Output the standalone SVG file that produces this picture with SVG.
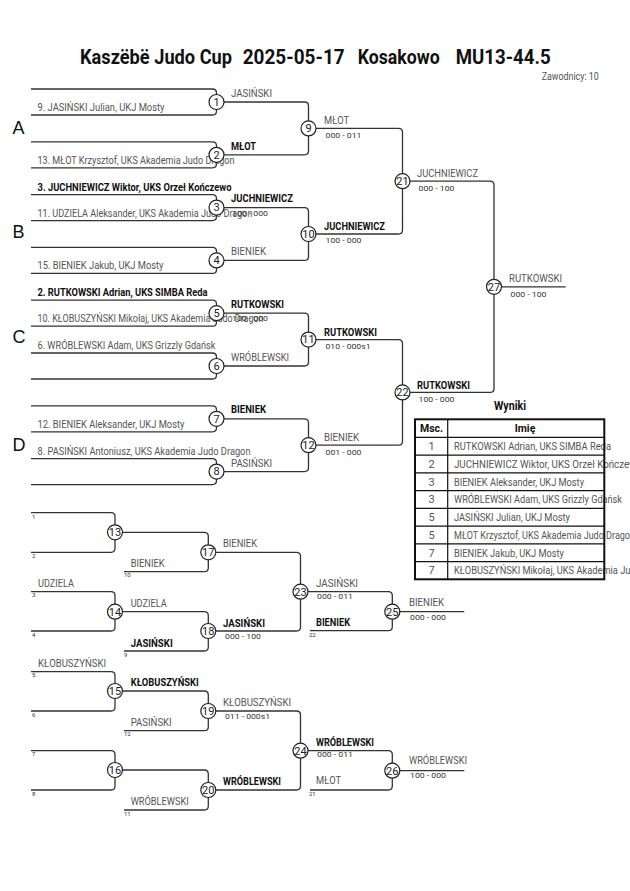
<svg xmlns="http://www.w3.org/2000/svg" width="630" height="891" viewBox="0 0 630 891">
<style>
text{font-family:Roboto,"Liberation Sans",sans-serif}
.ttl{font-size:19.5px;font-weight:bold;fill:#111}
.zw{font-size:10px;fill:#555}
.pool{font-family:"Liberation Sans",Arial,sans-serif;font-size:18px;fill:#111}
.nm{font-size:10.8px;fill:#555}
.nb{font-size:10.8px;font-weight:bold;fill:#111}
.sc{font-size:8px;fill:#333}
.tn{font-size:6px;fill:#333}
.cn{font-size:11px;fill:#222;text-anchor:middle}
.ln{fill:none;stroke:#333;stroke-width:1.3}
.c{fill:#fff;stroke:#222;stroke-width:1.2}
.tb{fill:none;stroke:#111;stroke-width:2}
.ti{fill:none;stroke:#111;stroke-width:1.2}
.th{font-size:10.5px;font-weight:bold;fill:#111;text-anchor:middle}
.tr{font-size:11px;fill:#555}
.tp{font-size:11px;fill:#555;text-anchor:middle}
</style>
<rect width="630" height="891" fill="#fff"/>
<g id="title">
<text class="ttl" x="80" y="64" textLength="152" lengthAdjust="spacingAndGlyphs">Kaszëbë Judo Cup</text>
<text class="ttl" x="242.7" y="64" textLength="102" lengthAdjust="spacingAndGlyphs">2025-05-17</text>
<text class="ttl" x="357.7" y="64" textLength="82" lengthAdjust="spacingAndGlyphs">Kosakowo</text>
<text class="ttl" x="455.7" y="64" textLength="95" lengthAdjust="spacingAndGlyphs">MU13-44.5</text>
<text class="zw" x="541.7" y="79.5" textLength="57" lengthAdjust="spacingAndGlyphs">Zawodnicy: 10</text>
</g>
<g id="pools">
<text class="pool" x="12.5" y="134.3">A</text>
<text class="pool" x="12.5" y="238.3">B</text>
<text class="pool" x="12.5" y="343.3">C</text>
<text class="pool" x="12.5" y="451">D</text>
</g>
<g id="connectors">
<path class="ln" d="M31,89 H212.5 Q216.5,89 216.5,93 V111 Q216.5,115 212.5,115 H31"/>
<path class="ln" d="M31,141.8 H212.5 Q216.5,141.8 216.5,145.8 V163.8 Q216.5,167.8 212.5,167.8 H31"/>
<path class="ln" d="M31,194.6 H212.5 Q216.5,194.6 216.5,198.6 V216.6 Q216.5,220.6 212.5,220.6 H31"/>
<path class="ln" d="M31,247.4 H212.5 Q216.5,247.4 216.5,251.4 V269.4 Q216.5,273.4 212.5,273.4 H31"/>
<path class="ln" d="M31,300.2 H212.5 Q216.5,300.2 216.5,304.2 V322.2 Q216.5,326.2 212.5,326.2 H31"/>
<path class="ln" d="M31,353 H212.5 Q216.5,353 216.5,357 V375 Q216.5,379 212.5,379 H31"/>
<path class="ln" d="M31,405.8 H212.5 Q216.5,405.8 216.5,409.8 V427.8 Q216.5,431.8 212.5,431.8 H31"/>
<path class="ln" d="M31,458.6 H212.5 Q216.5,458.6 216.5,462.6 V480.6 Q216.5,484.6 212.5,484.6 H31"/>
<path class="ln" d="M216.5,102 H304.5 Q308.5,102 308.5,106 V150.8 Q308.5,154.8 304.5,154.8 H216.5"/>
<path class="ln" d="M216.5,207.6 H304.5 Q308.5,207.6 308.5,211.6 V256.4 Q308.5,260.4 304.5,260.4 H216.5"/>
<path class="ln" d="M216.5,313.2 H304.5 Q308.5,313.2 308.5,317.2 V362 Q308.5,366 304.5,366 H216.5"/>
<path class="ln" d="M216.5,418.8 H304.5 Q308.5,418.8 308.5,422.8 V467.6 Q308.5,471.6 304.5,471.6 H216.5"/>
<path class="ln" d="M308.5,128.4 H398.5 Q402.5,128.4 402.5,132.4 V230 Q402.5,234 398.5,234 H308.5"/>
<path class="ln" d="M308.5,339.6 H398.5 Q402.5,339.6 402.5,343.6 V441.2 Q402.5,445.2 398.5,445.2 H308.5"/>
<path class="ln" d="M402.5,181.2 H490 Q494,181.2 494,185.2 V388.4 Q494,392.4 490,392.4 H402.5"/>
<path class="ln" d="M494,286.8 H565.7"/>
<path class="ln" d="M31,512.7 H111 Q115,512.7 115,516.7 V548.3 Q115,552.3 111,552.3 H31"/>
<path class="ln" d="M31,591.7 H111 Q115,591.7 115,595.7 V627 Q115,631 111,631 H31"/>
<path class="ln" d="M31,671.7 H111 Q115,671.7 115,675.7 V707 Q115,711 111,711 H31"/>
<path class="ln" d="M31,750.7 H111 Q115,750.7 115,754.7 V786 Q115,790 111,790 H31"/>
<path class="ln" d="M115,532.3 H204.3 Q208.3,532.3 208.3,536.3 V567.7 Q208.3,571.7 204.3,571.7 H124"/>
<path class="ln" d="M115,611.7 H204.3 Q208.3,611.7 208.3,615.7 V647 Q208.3,651 204.3,651 H124"/>
<path class="ln" d="M115,691 H204.3 Q208.3,691 208.3,695 V726.7 Q208.3,730.7 204.3,730.7 H124"/>
<path class="ln" d="M115,770 H204.3 Q208.3,770 208.3,774 V806 Q208.3,810 204.3,810 H124"/>
<path class="ln" d="M208.3,552.3 H296.5 Q300.5,552.3 300.5,556.3 V627 Q300.5,631 296.5,631 H208.3"/>
<path class="ln" d="M208.3,711 H296.5 Q300.5,711 300.5,715 V786 Q300.5,790 296.5,790 H208.3"/>
<path class="ln" d="M300.5,591.7 H388.3 Q392.3,591.7 392.3,595.7 V626.7 Q392.3,630.7 388.3,630.7 H310"/>
<path class="ln" d="M300.5,750.7 H388.3 Q392.3,750.7 392.3,754.7 V786 Q392.3,790 388.3,790 H310"/>
<path class="ln" d="M392.3,611.7 H464.3"/>
<path class="ln" d="M392.3,770.7 H464.3"/>
</g>
<g id="entries">
<text class="nm" x="37.5" y="111.3" textLength="127" lengthAdjust="spacingAndGlyphs">9. JASIŃSKI Julian, UKJ Mosty</text>
<text class="nm" x="37.5" y="164" textLength="197" lengthAdjust="spacingAndGlyphs">13. MŁOT Krzysztof, UKS Akademia Judo Dragon</text>
<text class="nb" x="37.5" y="190.6" textLength="194" lengthAdjust="spacingAndGlyphs">3. JUCHNIEWICZ Wiktor, UKS Orzeł Kończewo</text>
<text class="nm" x="37.5" y="216.6" textLength="215" lengthAdjust="spacingAndGlyphs">11. UDZIELA Aleksander, UKS Akademia Judo Dragon</text>
<text class="nm" x="37.5" y="269.4" textLength="126" lengthAdjust="spacingAndGlyphs">15. BIENIEK Jakub, UKJ Mosty</text>
<text class="nb" x="37.5" y="296.2" textLength="170" lengthAdjust="spacingAndGlyphs">2. RUTKOWSKI Adrian, UKS SIMBA Reda</text>
<text class="nm" x="37.5" y="322.2" textLength="226" lengthAdjust="spacingAndGlyphs">10. KŁOBUSZYŃSKI Mikołaj, UKS Akademia Judo Dragon</text>
<text class="nm" x="37.5" y="349" textLength="178" lengthAdjust="spacingAndGlyphs">6. WRÓBLEWSKI Adam, UKS Grizzly Gdańsk</text>
<text class="nm" x="37.5" y="427.8" textLength="147" lengthAdjust="spacingAndGlyphs">12. BIENIEK Aleksander, UKJ Mosty</text>
<text class="nm" x="37.5" y="454.6" textLength="213" lengthAdjust="spacingAndGlyphs">8. PASIŃSKI Antoniusz, UKS Akademia Judo Dragon</text>
<text class="nm" x="38" y="587.3" textLength="36" lengthAdjust="spacingAndGlyphs">UDZIELA</text>
<text class="nm" x="38" y="666.7" textLength="68" lengthAdjust="spacingAndGlyphs">KŁOBUSZYŃSKI</text>
<text class="tn" x="32" y="518.5">1</text>
<text class="tn" x="32" y="558">2</text>
<text class="tn" x="32" y="597.4">3</text>
<text class="tn" x="32" y="636.7">4</text>
<text class="tn" x="32" y="677.4">5</text>
<text class="tn" x="32" y="716.7">6</text>
<text class="tn" x="32" y="756.4">7</text>
<text class="tn" x="32" y="795.7">8</text>
<text class="tn" x="124" y="577.4">10</text>
<text class="tn" x="124" y="656.7">9</text>
<text class="tn" x="124" y="736.4">12</text>
<text class="tn" x="124" y="815.7">11</text>
<text class="tn" x="309" y="636.6">22</text>
<text class="tn" x="309" y="795.9">21</text>
</g>
<g id="m1"><text class="nm" x="231" y="96.7" textLength="41" lengthAdjust="spacingAndGlyphs">JASIŃSKI</text><circle class="c" cx="216.5" cy="102" r="7.5"/><text class="cn" x="216.5" y="105.8">1</text></g>
<g id="m2"><text class="nb" x="231" y="149.5" textLength="25" lengthAdjust="spacingAndGlyphs">MŁOT</text><circle class="c" cx="216.5" cy="154.8" r="7.5"/><text class="cn" x="216.5" y="158.6">2</text></g>
<g id="m3"><text class="nb" x="231" y="202" textLength="62" lengthAdjust="spacingAndGlyphs">JUCHNIEWICZ</text><text class="sc" x="232" y="215.5" textLength="36" lengthAdjust="spacingAndGlyphs">100 - 000</text><circle class="c" cx="216.5" cy="207.6" r="7.5"/><text class="cn" x="216.5" y="211.4">3</text></g>
<g id="m4"><text class="nm" x="231" y="255" textLength="35" lengthAdjust="spacingAndGlyphs">BIENIEK</text><circle class="c" cx="216.5" cy="260.4" r="7.5"/><text class="cn" x="216.5" y="264.2">4</text></g>
<g id="m5"><text class="nb" x="231" y="308" textLength="53" lengthAdjust="spacingAndGlyphs">RUTKOWSKI</text><text class="sc" x="232" y="321" textLength="36" lengthAdjust="spacingAndGlyphs">100 - 000</text><circle class="c" cx="216.5" cy="313.2" r="7.5"/><text class="cn" x="216.5" y="317">5</text></g>
<g id="m6"><text class="nm" x="231" y="361" textLength="58" lengthAdjust="spacingAndGlyphs">WRÓBLEWSKI</text><circle class="c" cx="216.5" cy="366" r="7.5"/><text class="cn" x="216.5" y="369.8">6</text></g>
<g id="m7"><text class="nb" x="231" y="413" textLength="35" lengthAdjust="spacingAndGlyphs">BIENIEK</text><circle class="c" cx="216.5" cy="418.8" r="7.5"/><text class="cn" x="216.5" y="422.6">7</text></g>
<g id="m8"><text class="nm" x="231" y="466.8" textLength="41" lengthAdjust="spacingAndGlyphs">PASIŃSKI</text><circle class="c" cx="216.5" cy="471.6" r="7.5"/><text class="cn" x="216.5" y="475.4">8</text></g>
<g id="m9"><text class="nm" x="324" y="124" textLength="25" lengthAdjust="spacingAndGlyphs">MŁOT</text><text class="sc" x="325.5" y="137.8" textLength="36" lengthAdjust="spacingAndGlyphs">000 - 011</text><circle class="c" cx="308.5" cy="128.4" r="7.5"/><text class="cn" x="308.5" y="132.2">9</text></g>
<g id="m10"><text class="nb" x="324" y="229.8" textLength="61" lengthAdjust="spacingAndGlyphs">JUCHNIEWICZ</text><text class="sc" x="325.5" y="243.3" textLength="36" lengthAdjust="spacingAndGlyphs">100 - 000</text><circle class="c" cx="308.5" cy="234" r="7.5"/><text class="cn" x="308.5" y="237.8">10</text></g>
<g id="m11"><text class="nb" x="324" y="335.8" textLength="53" lengthAdjust="spacingAndGlyphs">RUTKOWSKI</text><text class="sc" x="325.5" y="349" textLength="45" lengthAdjust="spacingAndGlyphs">010 - 000s1</text><circle class="c" cx="308.5" cy="339.6" r="7.5"/><text class="cn" x="308.5" y="343.4">11</text></g>
<g id="m12"><text class="nm" x="324" y="441" textLength="35" lengthAdjust="spacingAndGlyphs">BIENIEK</text><text class="sc" x="325.5" y="454.5" textLength="36" lengthAdjust="spacingAndGlyphs">001 - 000</text><circle class="c" cx="308.5" cy="445.2" r="7.5"/><text class="cn" x="308.5" y="449">12</text></g>
<g id="m21"><text class="nm" x="417" y="177.3" textLength="61" lengthAdjust="spacingAndGlyphs">JUCHNIEWICZ</text><text class="sc" x="418.5" y="190.7" textLength="36" lengthAdjust="spacingAndGlyphs">000 - 100</text><circle class="c" cx="402.5" cy="181.2" r="7.5"/><text class="cn" x="402.5" y="185">21</text></g>
<g id="m22"><text class="nb" x="417" y="389" textLength="53" lengthAdjust="spacingAndGlyphs">RUTKOWSKI</text><text class="sc" x="418.5" y="402.3" textLength="36" lengthAdjust="spacingAndGlyphs">100 - 000</text><circle class="c" cx="402.5" cy="392.4" r="7.5"/><text class="cn" x="402.5" y="396.2">22</text></g>
<g id="m27"><text class="nm" x="509" y="282.3" textLength="53" lengthAdjust="spacingAndGlyphs">RUTKOWSKI</text><text class="sc" x="510.5" y="296.7" textLength="36" lengthAdjust="spacingAndGlyphs">000 - 100</text><circle class="c" cx="494" cy="286.8" r="7.5"/><text class="cn" x="494" y="290.6">27</text></g>
<g id="m13"><circle class="c" cx="115" cy="532.3" r="7.5"/><text class="cn" x="115" y="536.1">13</text></g>
<g id="m14"><circle class="c" cx="115" cy="611.7" r="7.5"/><text class="cn" x="115" y="615.5">14</text></g>
<g id="m15"><circle class="c" cx="115" cy="691" r="7.5"/><text class="cn" x="115" y="694.8">15</text></g>
<g id="m16"><circle class="c" cx="115" cy="770" r="7.5"/><text class="cn" x="115" y="773.8">16</text></g>
<g id="m17"><text class="nm" x="130.7" y="566.7" textLength="34" lengthAdjust="spacingAndGlyphs">BIENIEK</text><text class="nm" x="223" y="546.7" textLength="34" lengthAdjust="spacingAndGlyphs">BIENIEK</text><circle class="c" cx="208.3" cy="552.3" r="7.5"/><text class="cn" x="208.3" y="556.1">17</text></g>
<g id="m18"><text class="nm" x="130.7" y="607.3" textLength="36" lengthAdjust="spacingAndGlyphs">UDZIELA</text><text class="nb" x="130.7" y="646.7" textLength="42" lengthAdjust="spacingAndGlyphs">JASIŃSKI</text><text class="nb" x="223" y="626.7" textLength="42" lengthAdjust="spacingAndGlyphs">JASIŃSKI</text><text class="sc" x="225" y="639.3" textLength="36" lengthAdjust="spacingAndGlyphs">000 - 100</text><circle class="c" cx="208.3" cy="631" r="7.5"/><text class="cn" x="208.3" y="634.8">18</text></g>
<g id="m19"><text class="nb" x="130.7" y="686" textLength="68" lengthAdjust="spacingAndGlyphs">KŁOBUSZYŃSKI</text><text class="nm" x="130.7" y="726" textLength="41" lengthAdjust="spacingAndGlyphs">PASIŃSKI</text><text class="nm" x="223" y="706" textLength="68" lengthAdjust="spacingAndGlyphs">KŁOBUSZYŃSKI</text><text class="sc" x="225" y="719" textLength="45" lengthAdjust="spacingAndGlyphs">011 - 000s1</text><circle class="c" cx="208.3" cy="711" r="7.5"/><text class="cn" x="208.3" y="714.8">19</text></g>
<g id="m20"><text class="nm" x="130.7" y="805" textLength="58" lengthAdjust="spacingAndGlyphs">WRÓBLEWSKI</text><text class="nb" x="223" y="785" textLength="58" lengthAdjust="spacingAndGlyphs">WRÓBLEWSKI</text><circle class="c" cx="208.3" cy="790" r="7.5"/><text class="cn" x="208.3" y="793.8">20</text></g>
<g id="m23"><text class="nm" x="316" y="587.3" textLength="42" lengthAdjust="spacingAndGlyphs">JASIŃSKI</text><text class="sc" x="317" y="599.3" textLength="36" lengthAdjust="spacingAndGlyphs">000 - 011</text><text class="nb" x="316" y="626" textLength="34" lengthAdjust="spacingAndGlyphs">BIENIEK</text><circle class="c" cx="300.5" cy="591.7" r="7.5"/><text class="cn" x="300.5" y="595.5">23</text></g>
<g id="m24"><text class="nb" x="316" y="746" textLength="58" lengthAdjust="spacingAndGlyphs">WRÓBLEWSKI</text><text class="sc" x="317" y="757.3" textLength="36" lengthAdjust="spacingAndGlyphs">000 - 011</text><text class="nm" x="316" y="784.3" textLength="25" lengthAdjust="spacingAndGlyphs">MŁOT</text><circle class="c" cx="300.5" cy="750.7" r="7.5"/><text class="cn" x="300.5" y="754.5">24</text></g>
<g id="m25"><text class="nm" x="409" y="605.7" textLength="35" lengthAdjust="spacingAndGlyphs">BIENIEK</text><text class="sc" x="410" y="620" textLength="36" lengthAdjust="spacingAndGlyphs">000 - 000</text><circle class="c" cx="392.3" cy="611.7" r="7.5"/><text class="cn" x="392.3" y="615.5">25</text></g>
<g id="m26"><text class="nm" x="409" y="764" textLength="58" lengthAdjust="spacingAndGlyphs">WRÓBLEWSKI</text><text class="sc" x="410" y="778.3" textLength="36" lengthAdjust="spacingAndGlyphs">100 - 000</text><circle class="c" cx="392.3" cy="770.7" r="7.5"/><text class="cn" x="392.3" y="774.5">26</text></g>
<g id="results">
<text x="510" y="410" text-anchor="middle" font-size="12" font-weight="bold" fill="#111" textLength="32" lengthAdjust="spacingAndGlyphs">Wyniki</text>
<text class="th" x="431.5" y="432.3">Msc.</text>
<text class="th" x="525" y="432.3">Imię</text>
<text class="tp" x="431.5" y="450">1</text>
<text class="tp" x="431.5" y="467.8">2</text>
<text class="tp" x="431.5" y="485.5">3</text>
<text class="tp" x="431.5" y="503.3">3</text>
<text class="tp" x="431.5" y="521">5</text>
<text class="tp" x="431.5" y="538.8">5</text>
<text class="tp" x="431.5" y="556.5">7</text>
<text class="tp" x="431.5" y="574.3">7</text>
<text class="tr" x="454" y="450" textLength="157" lengthAdjust="spacingAndGlyphs">RUTKOWSKI Adrian, UKS SIMBA Reda</text>
<text class="tr" x="454" y="467.8" textLength="188" lengthAdjust="spacingAndGlyphs">JUCHNIEWICZ Wiktor, UKS Orzeł Kończewo</text>
<text class="tr" x="454" y="485.5" textLength="130" lengthAdjust="spacingAndGlyphs">BIENIEK Aleksander, UKJ Mosty</text>
<text class="tr" x="454" y="503.3" textLength="168" lengthAdjust="spacingAndGlyphs">WRÓBLEWSKI Adam, UKS Grizzly Gdańsk</text>
<text class="tr" x="454" y="521" textLength="116" lengthAdjust="spacingAndGlyphs">JASIŃSKI Julian, UKJ Mosty</text>
<text class="tr" x="454" y="538.8" textLength="181" lengthAdjust="spacingAndGlyphs">MŁOT Krzysztof, UKS Akademia Judo Dragon</text>
<text class="tr" x="454" y="556.5" textLength="110" lengthAdjust="spacingAndGlyphs">BIENIEK Jakub, UKJ Mosty</text>
<text class="tr" x="454" y="574.3" textLength="219" lengthAdjust="spacingAndGlyphs">KŁOBUSZYŃSKI Mikołaj, UKS Akademia Judo Dragon</text>
<path class="ti" d="M415,437.3 H604.3 M415,455.1 H604.3 M415,472.8 H604.3 M415,490.6 H604.3 M415,508.3 H604.3 M415,526.1 H604.3 M415,543.8 H604.3 M415,561.6 H604.3 M447.7,419.3 V579.3"/>
<rect class="tb" x="415" y="419.3" width="189.3" height="160"/>
</g>
</svg>
